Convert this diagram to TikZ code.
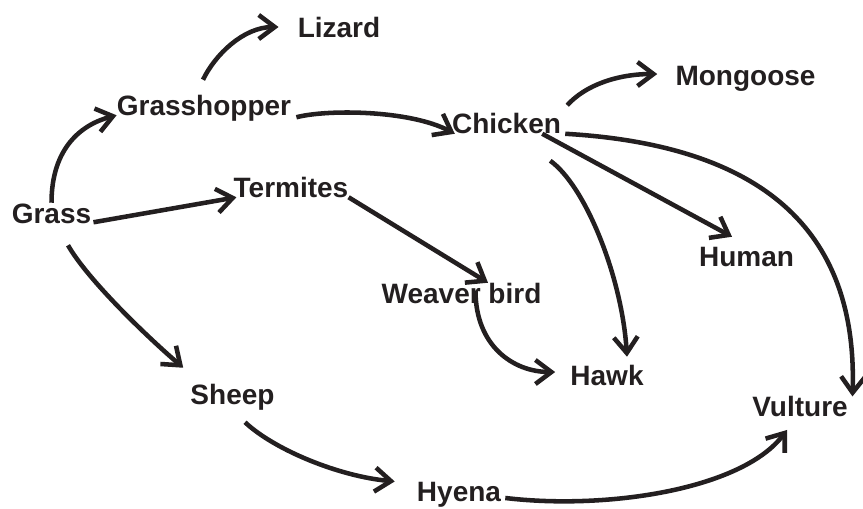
\documentclass[tikz,border=0pt]{standalone}
\usepackage{fontspec}
\setmainfont{Liberation Sans}
\usetikzlibrary{arrows.meta,calc}
\definecolor{ink}{RGB}{35,31,32}

\begin{document}
\begin{tikzpicture}[x=0.75pt,y=0.75pt,yscale=-1,xscale=1,
  animal/.style={inner sep=0pt, text height=15pt, text depth=0pt, text=ink, font=\bfseries\fontsize{21}{25}\selectfont},
  eats/.style={draw=ink, line width=3.4pt, -{Straight Barb[length=12pt,width=18pt]}}]
\useasboundingbox (0,0) rectangle (863,508);

% Text Node
\node [animal] (grass) at (51.5,213) {Grass};
% Text Node
\node [animal] (grasshopper) at (204,105) {Grasshopper};
% Text Node
\node [animal] (lizard) at (339,27) {Lizard};
% Text Node
\node [animal] (termites) at (291,187) {Termites};
% Text Node
\node [animal] (chicken) at (506.5,123.5) {Chicken};
% Text Node
\node [animal] (mongoose) at (745.5,75) {Mongoose};
% Text Node
\node [animal] (human) at (746.5,256) {Human};
% Text Node
\node [animal] (weaver) at (461.5,293) {Weaver bird};
% Text Node
\node [animal] (hawk) at (607,375) {Hawk};
% Text Node
\node [animal] (sheep) at (232.5,394) {Sheep};
% Text Node
\node [animal] (vulture) at (800,406.7) {Vulture};
% Text Node
\node [animal] (hyena) at (459,491.7) {Hyena};

%Curve Lines
\draw [eats] (grass.north) .. controls +(0,-55) and +(-35,9) .. (grasshopper.south west);
%Curve Lines
\draw [eats] ($(grasshopper.north)+(-1,-15)$) .. controls +(12,-25) and +(-35,0) .. ($(lizard.west)+(-19,0)$);
%Curve Lines
\draw [eats] ($(grasshopper.south east)+(5,2)$) .. controls +(30,-8) and +(-45,-24) .. ($(chicken.south west)+(3,0)$);
%Straight Lines
\draw [eats] ($(grass.south east)+(2,-1)$) -- ($(termites.south west)+(3,0)$);
%Straight Lines
\draw [eats] (termites.south east) -- ($(weaver.north)+(26.5,0)$);
%Curve Lines
\draw [eats] ($(weaver.north)+(14,8)$) .. controls +(0,55) and +(-42,0) .. ($(hawk.west)+(-15,-3)$);
%Curve Lines
\draw [eats] ($(chicken.north east)+(6,-8)$) .. controls +(18,-20) and +(-40,0) .. ($(mongoose.west)+(-18,-1)$);
%Straight Lines
\draw [eats] ($(chicken.south east)+(-19,0)$) -- ($(human.north)+(-14.5,-9)$);
%Curve Lines
\draw [eats] ($(chicken.south east)+(-11,27)$) .. controls +(35,25) and +(-5,-80) .. ($(hawk.north)+(20,-8)$);
%Curve Lines
\draw [eats] ($(chicken.south east)+(4,0)$) .. controls +(205,12) and +(5,-160) .. ($(vulture.north east)+(4.5,0)$);
%Curve Lines
\draw [eats] ($(grass.south)+(16.5,22)$) .. controls +(20,35) and +(-35,-30) .. ($(sheep.north west)+(-7,-16)$);
%Curve Lines
\draw [eats] ($(sheep.south)+(12.5,18)$) .. controls +(30,28) and +(-55,-5) .. ($(hyena.north west)+(-22,0)$);
%Curve Lines
\draw [eats] ($(hyena.south east)+(4,-4)$) .. controls +(100,12) and +(-45,60) .. ($(vulture.south)+(-13,13)$);

\end{tikzpicture}
\end{document}
